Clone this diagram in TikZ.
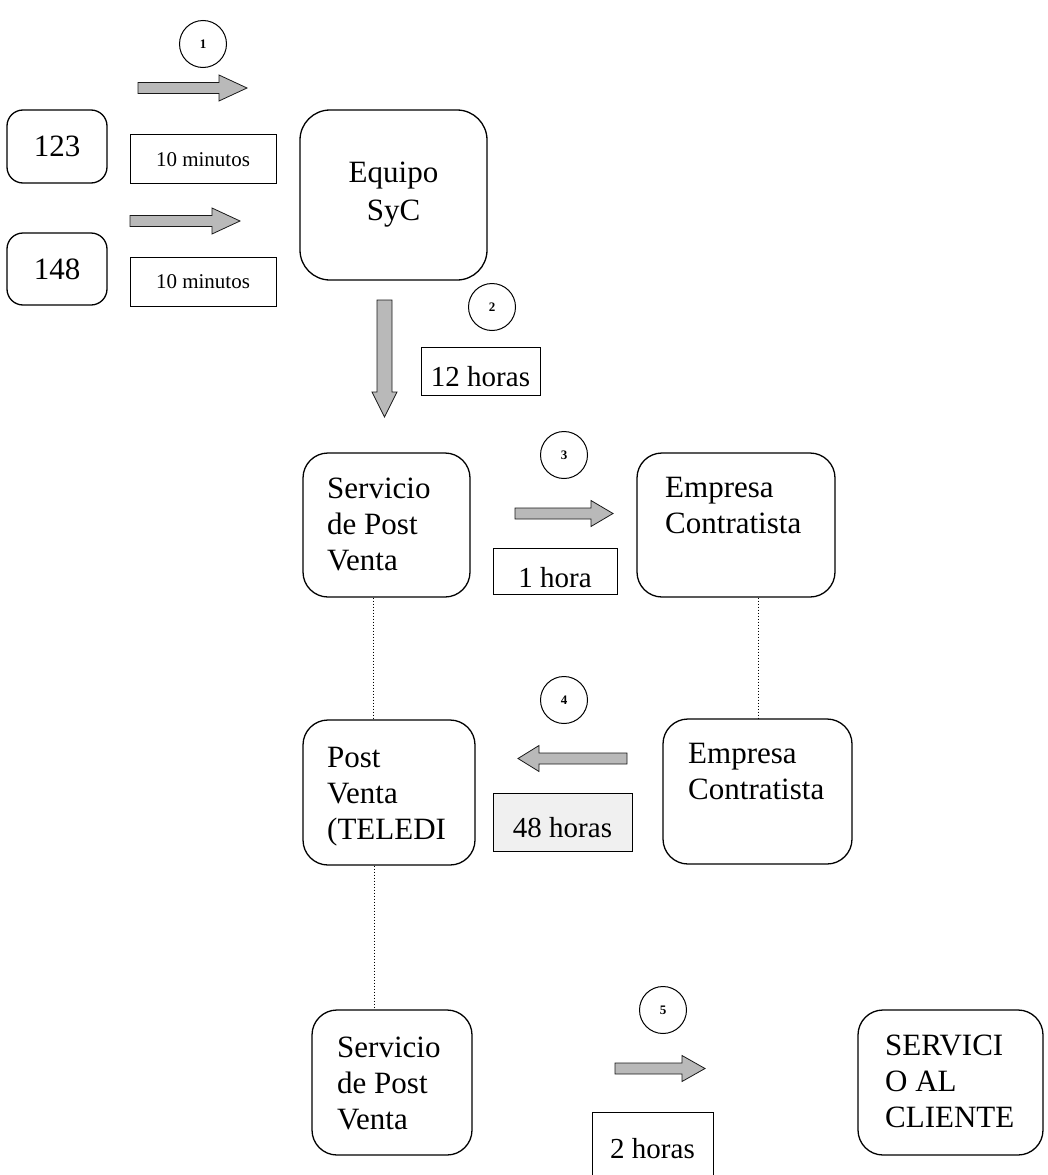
\documentclass[tikz,border=0pt]{standalone}
\usepackage{fontspec}
\setmainfont{Liberation Serif}
% horizontal block arrow: tail x, head base x, tip x, centre y
\newcommand{\hblock}[4]{%
  \filldraw[blk] (#1,{#4-5.5}) -- (#2,{#4-5.5}) -- (#2,{#4-13}) -- (#3,#4)
    -- (#2,{#4+13}) -- (#2,{#4+5.5}) -- (#1,{#4+5.5}) -- cycle;}
\begin{document}
\begin{tikzpicture}[x=1pt,y=-1pt,
  rbox/.style={draw, rounded corners=25pt, line width=1.3pt, inner sep=0pt},
  lbox/.style={draw, line width=1pt, inner sep=0pt, font=\fontsize{29}{34}\selectfont},
  minbox/.style={lbox, font=\fontsize{21}{25}\selectfont},
  big/.style={font=\fontsize{31}{36}\selectfont, inner sep=0pt, anchor=base west},
  num/.style={draw, circle, line width=1pt, minimum size=47pt, inner sep=0pt,
    font=\bfseries\fontsize{13}{15}\selectfont},
  link/.style={dotted, line width=1pt},
  blk/.style={fill=gray!55, draw=black!90, line width=0.8pt}
]
\useasboundingbox (0,0) rectangle (1047,1175);

% --- phone lines and the SyC team ---
\node[rbox, rounded corners=16pt, minimum width=100pt, minimum height=73pt,
  font=\fontsize{31}{36}\selectfont] (n123) at (57,146.5) {123};
\node[rbox, rounded corners=16pt, minimum width=100pt, minimum height=72pt,
  font=\fontsize{31}{36}\selectfont] (n148) at (57,269) {148};
\node[rbox, rounded corners=30pt, minimum width=187pt, minimum height=170pt,
  align=center, font=\fontsize{31}{38}\selectfont] (syc) at (393.5,195) {Equipo\\SyC};

\node[num] (c1) at (203,44) {1};
\hblock{138}{219}{247}{88}
\node[minbox, minimum width=146pt, minimum height=49pt, text height=15pt, text depth=0pt]
  (t1) at (203,158.5) {10 minutos};
\hblock{130}{212}{240}{221}
\node[minbox, minimum width=146pt, minimum height=49pt, text height=14pt, text depth=0pt]
  (t2) at (203,281.5) {10 minutos};

% --- step 2 ---
\node[num] (c2) at (492,307) {2};
\filldraw[blk] (377,300) -- (392,300) -- (392,392) -- (397,392) -- (384.5,417)
  -- (372,392) -- (377,392) -- cycle;
\node[lbox, minimum width=119pt, minimum height=48pt, text height=30pt, text depth=0pt]
  (t3) at (480.5,371) {12 horas};

% --- after-sales service and contractor ---
\node[rbox, minimum width=167pt, minimum height=144pt] (spv1) at (386.5,525) {};
\node[big] (spv1t) at (327,498) {\parbox[t]{140pt}{\raggedright Servicio\\de Post\\Venta}};
\node[rbox, minimum width=198pt, minimum height=144pt] (emp1) at (736,525) {};
\node[big] (emp1t) at (665,497) {\parbox[t]{150pt}{\raggedright Empresa\\Contratista}};

\node[num] (c3) at (564,455) {3};
\hblock{515}{591}{613}{513.5}
\node[lbox, minimum width=124pt, minimum height=46pt, text height=32pt, text depth=0pt]
  (t4) at (555,571) {1 hora};

\node[rbox, minimum width=172pt, minimum height=145pt] (pv) at (389,792.5) {};
\node[big] (pvt) at (327,767) {\parbox[t]{140pt}{\raggedright Post\\Venta\\(TELEDI}};
\node[rbox, minimum width=189pt, minimum height=145pt] (emp2) at (757.5,791.5) {};
\node[big] (emp2t) at (688,763) {\parbox[t]{150pt}{\raggedright Empresa\\Contratista}};

\node[num] (c4) at (564,700) {4};
\hblock{627}{539}{518}{758.5}
\node[lbox, fill=gray!12, minimum width=139pt, minimum height=58pt, text height=30pt, text depth=0pt]
  (t5) at (562.5,822) {48 horas};

% --- final service to the customer ---
\node[rbox, minimum width=160pt, minimum height=145pt] (spv2) at (392,1082.5) {};
\node[big] (spv2t) at (337,1057) {\parbox[t]{140pt}{\raggedright Servicio\\de Post\\Venta}};
\node[rbox, minimum width=185pt, minimum height=145pt] (sac) at (950.5,1082.5) {};
\node[big] (sact) at (885,1055) {\parbox[t]{150pt}{\raggedright SERVICI\\O AL\\CLIENTE}};

\node[num] (c5) at (663,1010) {5};
\hblock{615}{682}{705}{1068.5}
\node[lbox, minimum width=121pt, minimum height=80pt, text height=12pt, text depth=0pt]
  (t6) at (652.5,1152) {2 horas};

% --- dotted links between the stages ---
\draw[link] ([xshift=-13.5pt]spv1.south) -- ([xshift=-16pt]pv.north);
\draw[link] ([xshift=22pt]emp1.south) -- ([xshift=0.5pt]emp2.north);
\draw[link] ([xshift=-15pt]pv.south) -- ([xshift=-18pt]spv2.north);
\end{tikzpicture}
\end{document}
